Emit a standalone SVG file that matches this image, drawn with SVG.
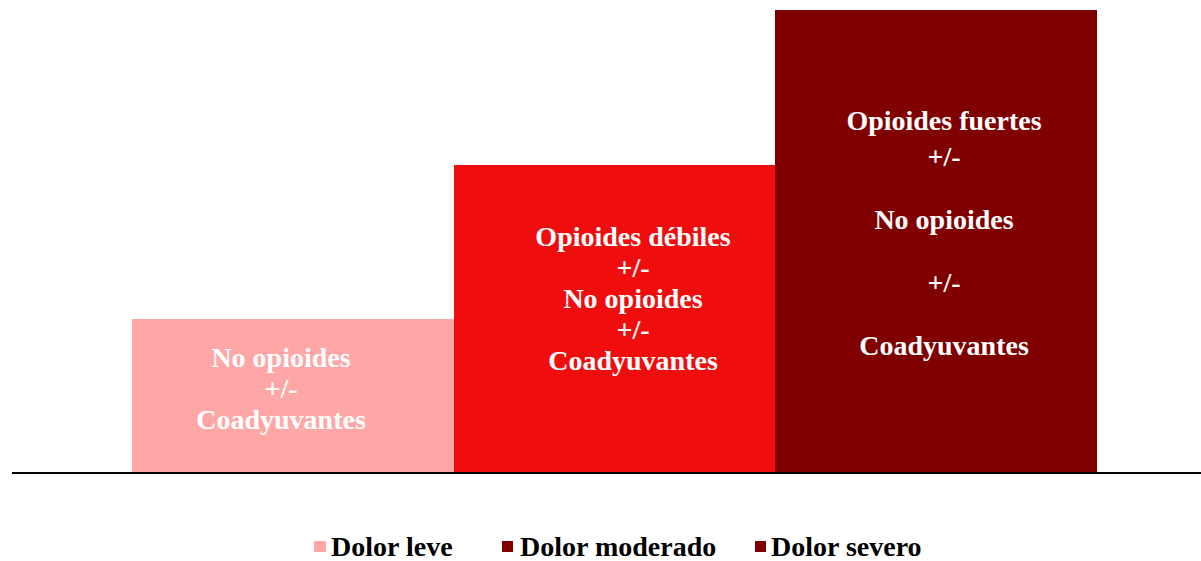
<svg xmlns="http://www.w3.org/2000/svg" width="1201" height="561" viewBox="0 0 1201 561">
<style>
.lbl{font-family:"Liberation Serif","Times New Roman",serif;font-weight:bold;font-size:28px;fill:#FFFFFF;text-anchor:middle}
.leg{font-family:"Liberation Serif","Times New Roman",serif;font-weight:bold;font-size:28px;fill:#000000}
</style>
<rect width="1201" height="561" fill="#FFFFFF"/>
<g id="bar-leve">
<rect x="132" y="319" width="322" height="153" fill="#FFA6A6"/>
<text class="lbl" x="281" y="367">No opioides</text>
<text class="lbl" x="281" y="398">+/-</text>
<text class="lbl" x="281" y="429">Coadyuvantes</text>
</g>
<g id="bar-moderado">
<rect x="454" y="165" width="321" height="307" fill="#F00D0D"/>
<text class="lbl" x="633" y="246">Opioides débiles</text>
<text class="lbl" x="633" y="277">+/-</text>
<text class="lbl" x="633" y="308">No opioides</text>
<text class="lbl" x="633" y="339">+/-</text>
<text class="lbl" x="633" y="370">Coadyuvantes</text>
</g>
<g id="bar-severo">
<rect x="775" y="10" width="322" height="462" fill="#800000"/>
<text class="lbl" x="944" y="130">Opioides fuertes</text>
<text class="lbl" x="944" y="166">+/-</text>
<text class="lbl" x="944" y="229">No opioides</text>
<text class="lbl" x="944" y="292">+/-</text>
<text class="lbl" x="944" y="355">Coadyuvantes</text>
</g>
<g id="axis">
<line x1="12" y1="473" x2="1201" y2="473" stroke="#000000" stroke-width="2"/>
</g>
<g id="legend">
<rect x="314" y="541" width="12" height="11" fill="#FFA6A6"/>
<text class="leg" x="331" y="556">Dolor leve</text>
<rect x="502" y="541" width="11" height="11" fill="#800000"/>
<text class="leg" x="520" y="556">Dolor moderado</text>
<rect x="755" y="541" width="11" height="11" fill="#800000"/>
<text class="leg" x="771" y="556">Dolor severo</text>
</g>
</svg>
